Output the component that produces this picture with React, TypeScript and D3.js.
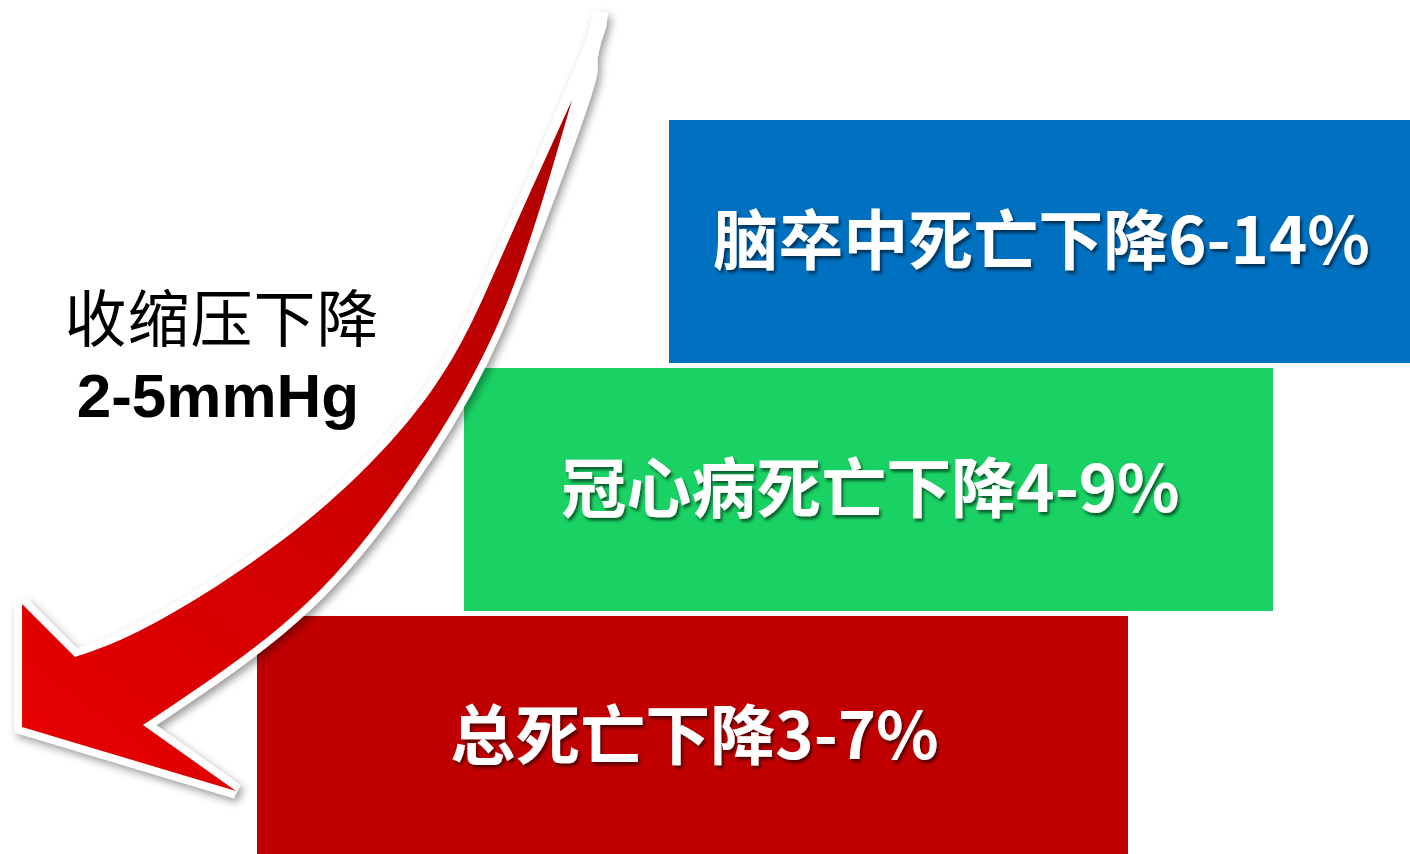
import React from "react";
import * as d3 from "d3";

// ---- data ----
const boxLabels: string[] = ["脑卒中死亡下降6-14%", "冠心病死亡下降4-9%", "总死亡下降3-7%"];
const boxColors: string[] = ["#0070C0", "#19D263", "#C00000"];
const boxLeft: number[] = [669, 464, 257];
const boxRight: number[] = [1410, 1273, 1128];
const sideLine1 = "收缩压下降";
const sideLine2 = "2-5mmHg";

// arrow geometry (red body)
const upperEdge: [number, number][] = [
  [572, 100], [500, 260], [432, 390], [308, 520], [160, 620], [75, 657],
];
const headPts: [number, number][] = [[22, 604], [22, 727], [236, 791]];
const lowerEdge: [number, number][] = [
  [572, 100], [523, 260], [465, 390], [380, 520], [280, 627], [143, 725],
];
const tailTop: [number, number][] = [[596, 20], [586, 60]];
const tailTopLower: [number, number][] = [[599, 20], [590, 60], [582, 100]];

const W = 1410;
const H = 854;

function buildPath(up: [number, number][], low: [number, number][], head: [number, number][]) {
  const line = d3.line<[number, number]>().curve(d3.curveNatural);
  const a = line(up) as string;
  const lowRev = [...low].reverse();
  const b = (line(lowRev) as string).replace(/^M/, "L");
  const h = head.map((p) => `L${p[0]},${p[1]}`).join("");
  return a + h + b + "Z";
}

export default function App() {
  const yBand = d3.scaleBand<number>().domain([0, 1, 2]).range([120, 859]).paddingInner(0.02).paddingOuter(0);
  const redPath = buildPath(upperEdge, lowerEdge, headPts);
  const whitePath = buildPath(
    [...tailTop, ...upperEdge.slice(1)],
    [...tailTopLower, ...lowerEdge.slice(1)],
    headPts
  );
  return (
    <svg width={W} height={H} style={{ position: "absolute", left: 0, top: 0, background: "#fff" }}>
      <defs>
        <filter id="txtShadow" x="-10%" y="-30%" width="120%" height="160%">
          <feDropShadow dx="2" dy="3" stdDeviation="1.5" floodColor="#000" floodOpacity="0.55" />
        </filter>
        <filter id="arrowShadow" x="-20%" y="-20%" width="140%" height="140%">
          <feDropShadow dx="3" dy="4" stdDeviation="4" floodColor="#000" floodOpacity="0.4" />
        </filter>
        <linearGradient id="arrowGrad" x1="600" y1="20" x2="40" y2="760" gradientUnits="userSpaceOnUse">
          <stop offset="0" stopColor="#A80000" />
          <stop offset="0.55" stopColor="#CC0000" />
          <stop offset="1" stopColor="#E60000" />
        </linearGradient>
      </defs>
      <rect x={0} y={0} width={W} height={H} fill="#fff" />
      {boxLabels.map((lab, i) => {
        const y0 = yBand(i) as number;
        const bh = yBand.bandwidth();
        const x0 = boxLeft[i];
        const x1 = boxRight[i];
        return (
          <g key={i}>
            <rect x={x0} y={y0} width={x1 - x0} height={bh} fill={boxColors[i]} />
            <text
              x={(x0 + x1) / 2 + 2}
              y={y0 + bh / 2 - 6}
              textAnchor="middle"
              dominantBaseline="central"
              fill="#fff"
              fontFamily="'Noto Sans CJK SC', sans-serif"
              fontWeight="bold"
              fontSize={65}
              filter="url(#txtShadow)"
            >
              {lab}
            </text>
          </g>
        );
      })}
      <g filter="url(#arrowShadow)">
        <path d={whitePath} fill="#fff" stroke="#fff" strokeWidth={15} strokeLinejoin="miter" strokeMiterlimit={2.2} />
      </g>
      <path d={redPath} fill="url(#arrowGrad)" />
      <text
        x={222}
        y={342}
        textAnchor="middle"
        fill="#000"
        fontFamily="'Noto Sans CJK SC', sans-serif"
        fontSize={62}
        letterSpacing={1}
      >
        {sideLine1}
      </text>
      <text
        x={218}
        y={417}
        textAnchor="middle"
        fill="#000"
        fontFamily="'Liberation Sans', Arial, sans-serif"
        fontWeight="bold"
        fontSize={62}
      >
        {sideLine2}
      </text>
    </svg>
  );
}
